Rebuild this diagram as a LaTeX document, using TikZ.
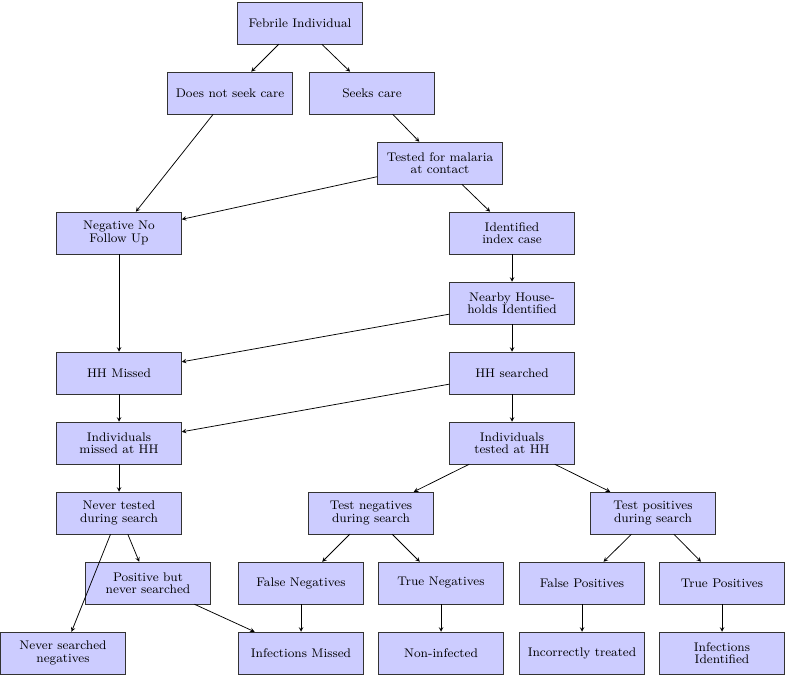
\documentclass[tikz,border=0pt]{standalone}
\usepackage{fontspec}
\newfontfamily\lmeight{lmroman8-regular.otf}
\usetikzlibrary{arrows}
\begin{document}
\begin{tikzpicture}[x=0.8pt,y=-0.8pt,
  box/.style={draw=black!80,fill=blue!20,minimum width=100pt,minimum height=33.6pt,align=center,inner sep=2pt,font=\lmeight\fontsize{10}{9.9}\selectfont},
  arr/.style={-stealth,black,semithick}]
\useasboundingbox (0,0) rectangle (787,675);
\node[box] (feb) at (300,23) {Febrile Individual};
\node[box] (dns) at (230,93) {Does not seek care};
\node[box] (sc) at (372,93) {Seeks care};
\node[box] (tm) at (440,163) {Tested for malaria\\at contact};
\node[box] (nnf) at (119,233) {Negative No\\Follow Up};
\node[box] (iic) at (512,233) {Identified\\index case};
\node[box] (nhi) at (512,303) {Nearby House-\\holds Identified};
\node[box] (hhm) at (119,373) {HH Missed};
\node[box] (hhs) at (512,373) {HH searched};
\node[box] (imh) at (119,443) {Individuals\\missed at HH};
\node[box] (ith) at (512,443) {Individuals\\tested at HH};
\node[box] (nts) at (119,513) {Never tested\\during search};
\node[box] (tns) at (371,513) {Test negatives\\during search};
\node[box] (tps) at (653,513) {Test positives\\during search};
\node[box] (pbn) at (148,583) {Positive but\\never searched};
\node[box] (fn) at (301,583) {False Negatives};
\node[box] (tn) at (441,583) {True Negatives};
\node[box] (fp) at (582,583) {False Positives};
\node[box] (tp) at (722,583) {True Positives};
\node[box] (nsn) at (63,653) {Never searched\\negatives};
\node[box] (im) at (301,653) {Infections Missed};
\node[box] (ni) at (441,653) {Non-infected};
\node[box] (it) at (582,653) {Incorrectly treated};
\node[box] (ii) at (722,653) {Infections\\Identified};
\draw[arr] (feb) -- (dns);
\draw[arr] (feb) -- (sc);
\draw[arr] (sc) -- (tm);
\draw[arr] (dns) -- (nnf);
\draw[arr] (tm) -- (nnf);
\draw[arr] (tm) -- (iic);
\draw[arr] (iic) -- (nhi);
\draw[arr] (nnf) -- (hhm);
\draw[arr] (nhi) -- (hhm);
\draw[arr] (nhi) -- (hhs);
\draw[arr] (hhm) -- (imh);
\draw[arr] (hhs) -- (imh);
\draw[arr] (hhs) -- (ith);
\draw[arr] (imh) -- (nts);
\draw[arr] (ith) -- (tns);
\draw[arr] (ith) -- (tps);
\draw[arr] (nts) -- (pbn);
\draw[arr] (nts) -- (nsn);
\draw[arr] (tns) -- (fn);
\draw[arr] (tns) -- (tn);
\draw[arr] (tps) -- (fp);
\draw[arr] (tps) -- (tp);
\draw[arr] (pbn) -- (im);
\draw[arr] (fn) -- (im);
\draw[arr] (tn) -- (ni);
\draw[arr] (fp) -- (it);
\draw[arr] (tp) -- (ii);
\end{tikzpicture}
\end{document}
